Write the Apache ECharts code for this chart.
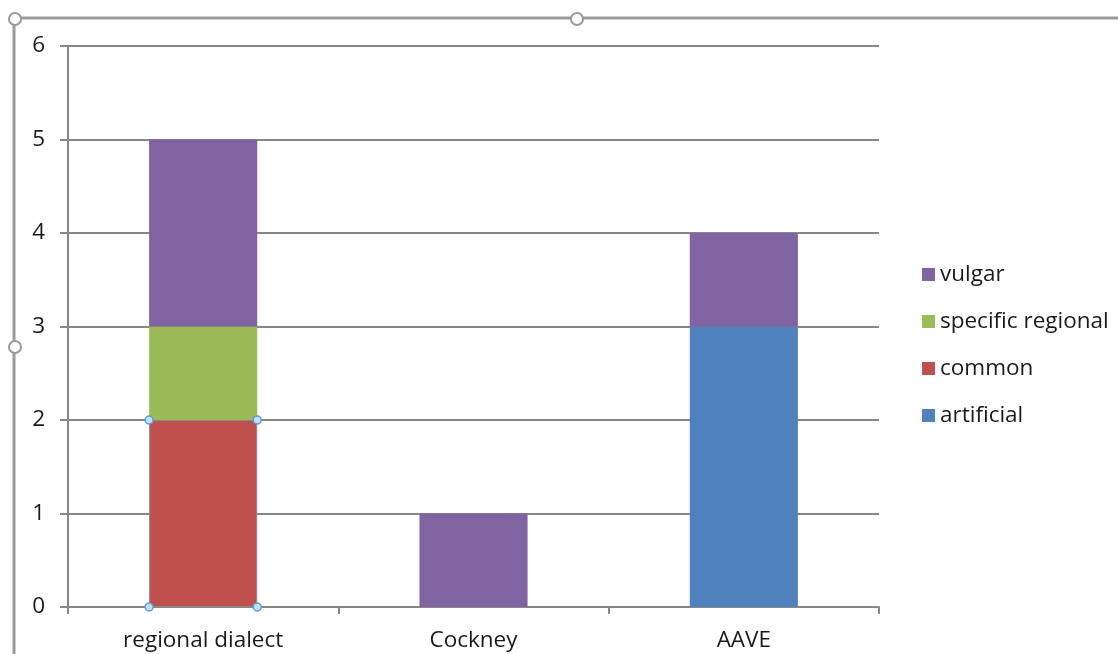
<!DOCTYPE html>
<html>
<head>
<meta charset="utf-8">
<style>
  html, body { margin: 0; padding: 0; background: #fff; }
  #chart { width: 1118px; height: 654px; }
</style>
<script src="https://cdn.jsdelivr.net/npm/echarts@6/dist/echarts.min.js"></script>
</head>
<body>
<div id="chart"></div>
<script>
// Dialect categories and counts per feature type
const categories = ['regional dialect', 'Cockney', 'AAVE'];
const artificial = [0, 0, 3];
const common = [2, 0, 0];
const specificRegional = [1, 0, 0];
const vulgar = [2, 1, 1];
const legendOrder = ['vulgar', 'specific regional', 'common', 'artificial'];

const FONT = '"Open Sans", sans-serif';
const FONT_SIZE = 22.5;
const GRID_COLOR = '#878787';
const TEXT_COLOR = '#1a1a1a';

const chart = echarts.init(document.getElementById('chart'));

function barSeries(name, data, color, extra) {
  return Object.assign({
    name: name,
    type: 'bar',
    stack: 'total',
    barWidth: '40%',
    data: data.map(v => (v === 0 ? null : v)),
    itemStyle: { color: color },
    emphasis: { disabled: true }
  }, extra || {});
}

chart.setOption({
  animation: false,
  textStyle: { fontFamily: FONT },
  grid: { left: 68, right: 239, top: 46, bottom: 47, containLabel: false },
  legend: {
    orient: 'vertical',
    left: 917,
    top: 258,
    itemWidth: 13,
    itemHeight: 13,
    itemGap: 24,
    icon: 'rect',
    data: legendOrder,
    selectedMode: false,
    itemStyle: { borderWidth: 0 },
    textStyle: { fontSize: FONT_SIZE, color: TEXT_COLOR, fontFamily: FONT }
  },
  xAxis: {
    type: 'category',
    data: categories,
    axisLine: { lineStyle: { color: GRID_COLOR, width: 2 } },
    axisTick: { show: true, length: 7, lineStyle: { color: GRID_COLOR, width: 2 } },
    axisLabel: { fontSize: FONT_SIZE, color: TEXT_COLOR, margin: 22, fontFamily: FONT },
    splitLine: { show: false }
  },
  yAxis: {
    type: 'value',
    min: 0,
    max: 6,
    interval: 1,
    axisLine: { show: true, lineStyle: { color: GRID_COLOR, width: 2 } },
    axisTick: { show: true, length: 8, lineStyle: { color: GRID_COLOR, width: 2 } },
    axisLabel: { fontSize: FONT_SIZE, color: TEXT_COLOR, margin: 23, fontFamily: FONT },
    splitLine: { lineStyle: { color: GRID_COLOR, width: 2 } }
  },
  series: [
    barSeries('artificial', artificial, '#4F81BD'),
    barSeries('common', common, '#C0504D', { itemStyle: { color: '#C0504D', borderColor: '#8a8a8a', borderWidth: 1 } }),
    barSeries('specific regional', specificRegional, '#9BBB59'),
    barSeries('vulgar', vulgar, '#8064A2')
  ]
});

// Selection frame around the chart and handles on the selected segment
function drawSelection() {
  const frameColor = '#9a9a9a';
  const handle = (x, y, r, stroke) => ({
    type: 'circle',
    shape: { cx: x, cy: y, r: r },
    style: { fill: '#fff', stroke: stroke, lineWidth: 2 },
    z: 100
  });
  const elements = [
    { type: 'line', shape: { x1: 14, y1: 18, x2: 1118, y2: 18 }, style: { stroke: frameColor, lineWidth: 3 }, z: 90 },
    { type: 'line', shape: { x1: 14, y1: 18, x2: 14, y2: 654 }, style: { stroke: frameColor, lineWidth: 3 }, z: 90 },
    handle(15, 19, 6, frameColor),
    handle(577, 19, 6, frameColor),
    handle(15, 347, 6, frameColor)
  ];
  // corners of the selected "common" segment, located through the chart's scales
  const idx = 0;
  const bottom = chart.convertToPixel({ seriesIndex: 1 }, [idx, 0]);
  const top = chart.convertToPixel({ seriesIndex: 1 }, [idx, common[idx]]);
  const bandW = chart.getModel().getComponent('xAxis', 0).axis.getBandWidth();
  const half = bandW * 0.4 / 2;
  const blue = '#5b9bd5';
  [[bottom[0] - half, top[1]], [bottom[0] + half, top[1]],
   [bottom[0] - half, bottom[1]], [bottom[0] + half, bottom[1]]].forEach(p => {
    elements.push({
      type: 'circle',
      shape: { cx: p[0], cy: p[1], r: 4 },
      style: { fill: '#bfe0ff', stroke: blue, lineWidth: 1.5 },
      z: 100
    });
  });
  chart.setOption({ graphic: elements });
}
drawSelection();
</script>
</body>
</html>
